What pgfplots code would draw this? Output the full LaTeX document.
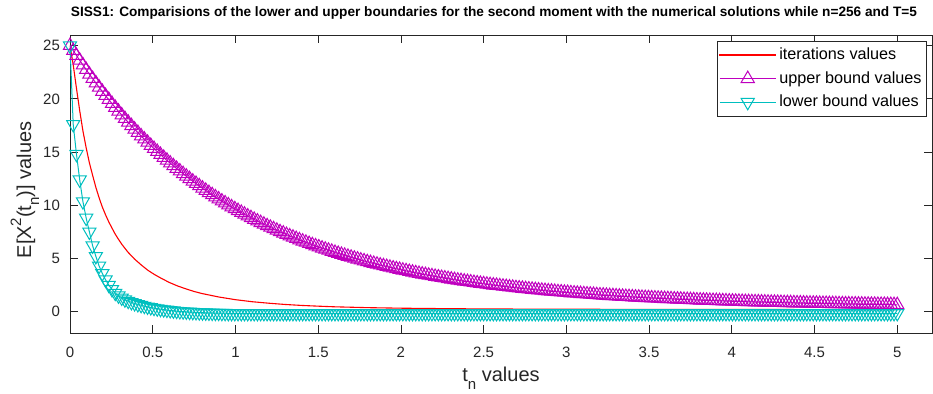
\documentclass[border=0pt]{standalone}
\usepackage{fontspec}
\setmainfont{Liberation Sans}
\usepackage{graphicx}
\usepackage{pgfplots}
\usepackage{pgfplotstable}
\pgfplotsset{compat=1.18}
\definecolor{axgray}{rgb}{0.15,0.15,0.15}
\definecolor{mred}{rgb}{1,0,0}
\definecolor{mmag}{rgb}{0.75,0,0.75}
\definecolor{mcyan}{rgb}{0,0.75,0.75}
\newcommand{\sub}[1]{\raisebox{-0.4em}{\fontsize{7.5}{7.5}\selectfont #1}}
\newcommand{\sups}[1]{\raisebox{0.5em}{\fontsize{7.5}{7.5}\selectfont #1}}
\pgfplotstableread{
t up lo
0 25.00 25
0.0195 24.53 17.6
0.0391 24.07 14.8
0.0586 23.62 12.4
0.0781 23.18 10.35
0.0977 22.74 8.8
0.1172 22.31 7.5
0.1367 21.90 6.2
0.1563 21.49 5.2
0.1758 21.09 4.3
0.1953 20.69 3.6
0.2148 20.30 3.0
0.2344 19.93 2.5
0.2539 19.55 2.1
0.2734 19.19 1.75
0.2930 18.83 1.5
0.3125 18.48 1.3
0.3320 18.14 1.13
0.3516 17.80 1.0
0.3711 17.47 0.88
0.3906 17.14 0.78
0.4102 16.83 0.69
0.4297 16.51 0.61
0.4492 16.21 0.53
0.4688 15.91 0.46
0.4883 15.61 0.40
0.5078 15.32 0.34
0.5273 15.04 0.29
0.5469 14.76 0.24
0.5664 14.49 0.20
0.5859 14.22 0.16
0.6055 13.96 0.12
0.6250 13.70 0.09
0.6445 13.45 0.06
0.6641 13.21 0.03
0.6836 12.96 0.01
0.7031 12.73 -0.01
0.7227 12.49 -0.03
0.7422 12.26 -0.05
0.7617 12.04 -0.06
0.7813 11.82 -0.08
0.8008 11.60 -0.09
0.8203 11.39 -0.10
0.8398 11.18 -0.11
0.8594 10.98 -0.12
0.8789 10.78 -0.13
0.8984 10.58 -0.13
0.9180 10.39 -0.14
0.9375 10.21 -0.14
0.9570 10.02 -0.15
0.9766 9.84 -0.15
0.9961 9.66 -0.15
1.0156 9.49 -0.15
1.0352 9.32 -0.15
1.0547 9.15 -0.15
1.0742 8.98 -0.15
1.0938 8.82 -0.15
1.1133 8.66 -0.15
1.1328 8.51 -0.15
1.1523 8.36 -0.15
1.1719 8.21 -0.15
1.1914 8.06 -0.15
1.2109 7.92 -0.15
1.2305 7.78 -0.15
1.2500 7.64 -0.15
1.2695 7.50 -0.15
1.2891 7.37 -0.15
1.3086 7.24 -0.15
1.3281 7.11 -0.15
1.3477 6.99 -0.15
1.3672 6.86 -0.15
1.3867 6.74 -0.15
1.4063 6.62 -0.15
1.4258 6.51 -0.15
1.4453 6.39 -0.15
1.4648 6.28 -0.15
1.4844 6.17 -0.15
1.5039 6.07 -0.15
1.5234 5.96 -0.15
1.5430 5.86 -0.15
1.5625 5.76 -0.15
1.5820 5.66 -0.15
1.6016 5.56 -0.15
1.6211 5.46 -0.15
1.6406 5.37 -0.15
1.6602 5.28 -0.15
1.6797 5.19 -0.15
1.6992 5.10 -0.15
1.7188 5.01 -0.15
1.7383 4.93 -0.15
1.7578 4.84 -0.15
1.7773 4.76 -0.15
1.7969 4.68 -0.15
1.8164 4.60 -0.15
1.8359 4.52 -0.15
1.8555 4.45 -0.15
1.8750 4.37 -0.15
1.8945 4.30 -0.15
1.9141 4.23 -0.15
1.9336 4.16 -0.15
1.9531 4.09 -0.15
1.9727 4.02 -0.15
1.9922 3.96 -0.15
2.0117 3.89 -0.15
2.0313 3.83 -0.15
2.0508 3.76 -0.15
2.0703 3.70 -0.15
2.0898 3.64 -0.15
2.1094 3.58 -0.15
2.1289 3.52 -0.15
2.1484 3.47 -0.15
2.1680 3.41 -0.15
2.1875 3.36 -0.15
2.2070 3.30 -0.15
2.2266 3.25 -0.15
2.2461 3.20 -0.15
2.2656 3.15 -0.15
2.2852 3.10 -0.15
2.3047 3.05 -0.15
2.3242 3.00 -0.15
2.3438 2.95 -0.15
2.3633 2.91 -0.15
2.3828 2.86 -0.15
2.4023 2.82 -0.15
2.4219 2.78 -0.15
2.4414 2.73 -0.15
2.4609 2.69 -0.15
2.4805 2.65 -0.15
2.5000 2.61 -0.15
2.5195 2.57 -0.15
2.5391 2.53 -0.15
2.5586 2.49 -0.15
2.5781 2.46 -0.15
2.5977 2.42 -0.15
2.6172 2.38 -0.15
2.6367 2.35 -0.15
2.6563 2.31 -0.15
2.6758 2.28 -0.15
2.6953 2.24 -0.15
2.7148 2.21 -0.15
2.7344 2.18 -0.15
2.7539 2.15 -0.15
2.7734 2.12 -0.15
2.7930 2.09 -0.15
2.8125 2.06 -0.15
2.8320 2.03 -0.15
2.8516 2.00 -0.15
2.8711 1.97 -0.15
2.8906 1.94 -0.15
2.9102 1.92 -0.15
2.9297 1.89 -0.15
2.9492 1.86 -0.15
2.9688 1.84 -0.15
2.9883 1.81 -0.15
3.0078 1.79 -0.15
3.0273 1.76 -0.15
3.0469 1.74 -0.15
3.0664 1.72 -0.15
3.0859 1.69 -0.15
3.1055 1.67 -0.15
3.1250 1.65 -0.15
3.1445 1.63 -0.15
3.1641 1.61 -0.15
3.1836 1.58 -0.15
3.2031 1.56 -0.15
3.2227 1.54 -0.15
3.2422 1.52 -0.15
3.2617 1.50 -0.15
3.2813 1.49 -0.15
3.3008 1.47 -0.15
3.3203 1.45 -0.15
3.3398 1.43 -0.15
3.3594 1.41 -0.15
3.3789 1.40 -0.15
3.3984 1.38 -0.15
3.4180 1.36 -0.15
3.4375 1.35 -0.15
3.4570 1.33 -0.15
3.4766 1.31 -0.15
3.4961 1.30 -0.15
3.5156 1.28 -0.15
3.5352 1.27 -0.15
3.5547 1.25 -0.15
3.5742 1.24 -0.15
3.5938 1.22 -0.15
3.6133 1.21 -0.15
3.6328 1.20 -0.15
3.6523 1.18 -0.15
3.6719 1.17 -0.15
3.6914 1.16 -0.15
3.7109 1.14 -0.15
3.7305 1.13 -0.15
3.7500 1.12 -0.15
3.7695 1.11 -0.15
3.7891 1.09 -0.15
3.8086 1.08 -0.15
3.8281 1.07 -0.15
3.8477 1.06 -0.15
3.8672 1.05 -0.15
3.8867 1.04 -0.15
3.9063 1.03 -0.15
3.9258 1.02 -0.15
3.9453 1.01 -0.15
3.9648 1.00 -0.15
3.9844 0.99 -0.15
4.0039 0.98 -0.15
4.0234 0.97 -0.15
4.0430 0.96 -0.15
4.0625 0.95 -0.15
4.0820 0.94 -0.15
4.1016 0.93 -0.15
4.1211 0.92 -0.15
4.1406 0.91 -0.15
4.1602 0.91 -0.15
4.1797 0.90 -0.15
4.1992 0.89 -0.15
4.2188 0.88 -0.15
4.2383 0.87 -0.15
4.2578 0.87 -0.15
4.2773 0.86 -0.15
4.2969 0.85 -0.15
4.3164 0.84 -0.15
4.3359 0.84 -0.15
4.3555 0.83 -0.15
4.3750 0.82 -0.15
4.3945 0.81 -0.15
4.4141 0.81 -0.15
4.4336 0.80 -0.15
4.4531 0.79 -0.15
4.4727 0.79 -0.15
4.4922 0.78 -0.15
4.5117 0.78 -0.15
4.5313 0.77 -0.15
4.5508 0.76 -0.15
4.5703 0.76 -0.15
4.5898 0.75 -0.15
4.6094 0.75 -0.15
4.6289 0.74 -0.15
4.6484 0.73 -0.15
4.6680 0.73 -0.15
4.6875 0.72 -0.15
4.7070 0.72 -0.15
4.7266 0.71 -0.15
4.7461 0.71 -0.15
4.7656 0.70 -0.15
4.7852 0.70 -0.15
4.8047 0.69 -0.15
4.8242 0.69 -0.15
4.8438 0.68 -0.15
4.8633 0.68 -0.15
4.8828 0.67 -0.15
4.9023 0.67 -0.15
4.9219 0.67 -0.15
4.9414 0.66 -0.15
4.9609 0.66 -0.15
4.9805 0.65 -0.15
5.0000 0.65 -0.15
}\bounds
\begin{document}
\begin{tikzpicture}
\begin{axis}[name=ax,
  scale only axis, width=431pt, height=149pt,
  xmin=0, xmax=5.21, ymin=-2, ymax=26,
  xtick={0,0.5,1,1.5,2,2.5,3,3.5,4,4.5,5},
  ytick={0,5,10,15,20,25},
  tick align=inside, major tick length=4pt,
  axis line style={axgray, line width=0.4pt},
  tick style={axgray, line width=0.4pt},
  /pgf/number format/assume math mode=true,
  ticklabel style={font=\fontsize{7.5}{8.5}\selectfont, text=axgray},
  xticklabel style={yshift=-3.5pt},
  yticklabel style={xshift=-1.5pt},
  xlabel={t\sub{n} values},
  ylabel={E[X\sups{2}(t\sub{n})] values},
  xlabel style={at={(axis description cs:0.5,-0.151)}, anchor=center, font=\fontsize{10}{11}\selectfont, text=axgray},
  ylabel style={at={(axis description cs:-0.0522,0.48)}, anchor=center, font=\fontsize{10}{11}\selectfont, text=axgray},
  legend cell align=left,
  legend image code/.code={\draw[mark repeat=2,mark phase=2,#1] plot coordinates {(0pt,0pt) (14pt,0pt) (28pt,0pt)};},
  legend style={at={(1,1)}, anchor=north east, xshift=-2.5pt, yshift=-3pt,
    draw=axgray, line width=0.4pt, fill=white,
    font=\fontsize{8.1}{9.5}\selectfont,
    inner sep=1pt, nodes={inner xsep=1.5pt, inner ysep=2.2pt}},
]
\addplot[color=mred, line width=0.55pt,
  legend image code/.code={\fill[red] (0pt,-0.25pt) rectangle (28pt,0.25pt);}] coordinates {
(0,25) (0.0195,23.2) (0.039,21.0) (0.0586,18.9) (0.078,17.0) (0.0977,15.4)
(0.117,14.0) (0.137,12.8) (0.156,11.7) (0.176,10.7) (0.195,9.85) (0.215,9.1)
(0.234,8.45) (0.254,7.85) (0.273,7.3) (0.293,6.8) (0.3125,6.35) (0.35,5.6)
(0.39,4.95) (0.43,4.4) (0.47,3.9) (0.51,3.5) (0.55,3.15) (0.6,2.75)
(0.65,2.42) (0.7,2.15) (0.75,1.9) (0.8,1.7) (0.9,1.38) (1.0,1.13)
(1.1,0.94) (1.2,0.8) (1.3,0.68) (1.4,0.59) (1.5,0.52) (1.6,0.46)
(1.8,0.38) (2.0,0.33) (2.25,0.29) (2.5,0.26) (3.0,0.23) (3.5,0.22)
(4.0,0.21) (4.5,0.2) (5.0,0.2)};
\addlegendentry{iterations values}
\addplot[color=mmag, line width=0.5pt, mark=triangle, mark size=3.8pt,
  mark options={solid, line width=0.5pt}] table[x=t, y=up] {\bounds};
\addlegendentry{upper bound values}
\addplot[color=mcyan, line width=0.5pt, mark=triangle, mark size=3.8pt,
  mark options={solid, line width=0.5pt, rotate=180}] table[x=t, y=lo] {\bounds};
\addlegendentry{lower bound values}
\end{axis}
\node[anchor=center, inner sep=0pt] at ([xshift=-3.5pt, yshift=11pt]ax.north)
  {\resizebox{423pt}{!}{\bfseries SISS1: Comparisions of the lower and upper boundaries for the second moment with the numerical solutions while n=256 and T=5}};
\pgfresetboundingbox
\path ([shift={(-35pt,-30.5pt)}]ax.south west) rectangle ([shift={(0.5pt,17.5pt)}]ax.north east);
\end{tikzpicture}
\end{document}
